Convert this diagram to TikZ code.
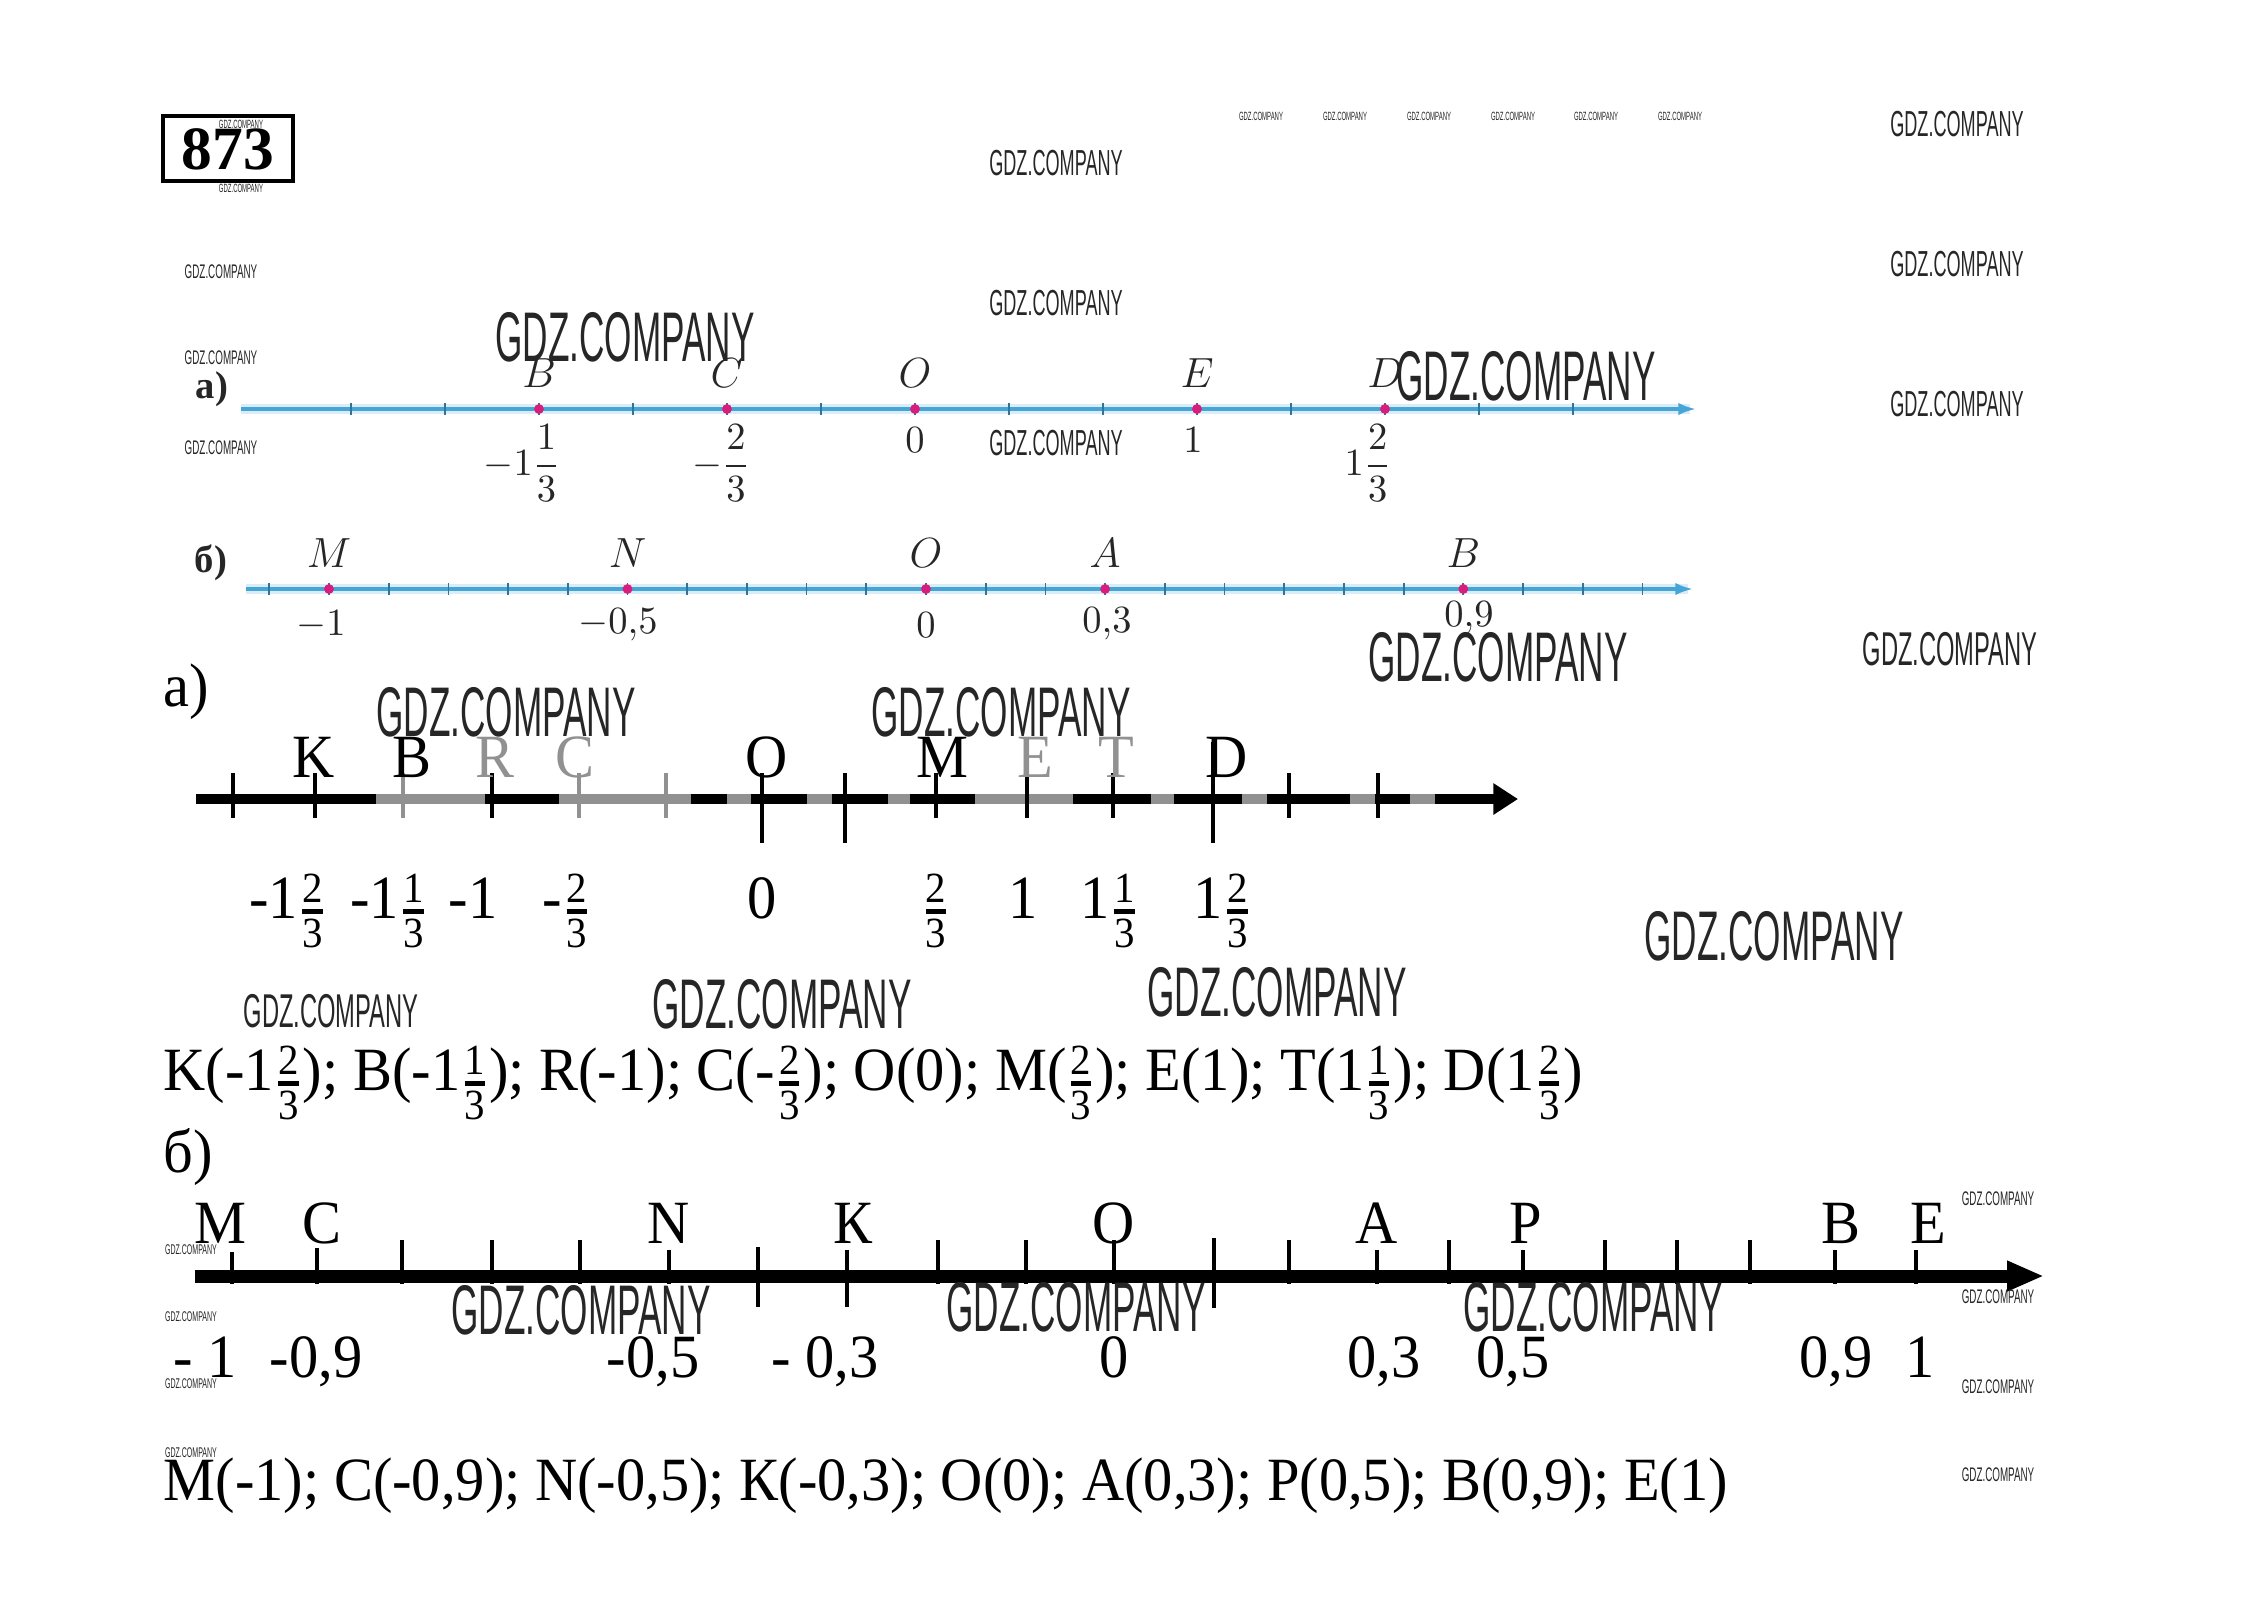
\documentclass[tikz,border=0pt]{standalone}
\usepackage{amsmath}
\usepackage[no-math]{fontspec}
\setmainfont{Liberation Serif}
\newfontfamily\handserif[FakeStretch=0.95]{Liberation Serif}
\newfontfamily\wmfont[FakeStretch=0.5]{Liberation Sans}
\usetikzlibrary{calc}
\usetikzlibrary{arrows.meta}
\definecolor{bookblue}{RGB}{70,165,215}
\definecolor{bookpink}{RGB}{215,30,125}
\definecolor{scangray}{RGB}{145,145,145}
\newcommand{\fr}[2]{\raisebox{-0.14em}{$\genfrac{}{}{1.4pt}{1}{\text{#1}}{\text{#2}}$}}
\newcommand{\wm}[3]{\node[font=\wmfont\fontsize{#3}{#3}\selectfont, text=black!85, inner sep=0] at (#1,#2) {GDZ.COMPANY};}
\newcommand{\bookfont}{\fontsize{12}{14}\selectfont}
\newcommand{\bookvals}{\fontsize{10.5}{12}\selectfont}
\newcommand{\handfont}{\handserif\fontsize{17.5}{20}\selectfont}

\begin{document}
\begin{tikzpicture}[x=0.1mm,y=-0.1mm]
        \useasboundingbox (0,0) rectangle (2265,1620);
        \tikzset{booktick/.style={bookblue!70!black, line width=0.5pt},
                 bookdot/.style={fill=bookpink},
                 booklabel/.style={font=\bookfont, text=black!85, inner sep=0},
                 handlabel/.style={font=\handfont, anchor=base, inner sep=0},
                 handtick/.style={line width=1.1pt}}
    %number 873
        \draw[line width=1.15pt] (163,116) rectangle (293,181);
        \node[font=\bfseries\fontsize{17.5}{20}\selectfont, inner sep=0] (num) at (228,149) {873};

    %book a)
        \node[booklabel, font=\fontsize{11}{13}\selectfont\bfseries] (ba) at (212,389) {а)};
        \draw[bookblue!20, line width=2.6pt] (241,409) -- (1690,409);
        \draw[bookblue, line width=0.9pt, -{Latex[length=5pt,width=3.5pt]}] (241,409) -- (1696,409);
        \foreach \k in {-6,...,7} {
            \draw[booktick] ({915+94*\k},403) -- ({915+94*\k},415);}
        \foreach \k/\l in {-4/B, -2/C, 0/O, 3/E, 5/D} {
            \fill[bookdot] ({915+94*\k},409) circle[radius=1.4pt];
            \node[booklabel] (b-\l) at ({915+94*\k},373) {$\l$};}
        \node[booklabel, anchor=north, font=\bookvals] (bv1) at (522,424) {$-1\dfrac{1}{3}$};
        \node[booklabel, anchor=north, font=\bookvals] (bv2) at (721,424) {$-\dfrac{2}{3}$};
        \node[booklabel, anchor=north, font=\bookvals] (bv3) at (915,427) {$0$};
        \node[booklabel, anchor=north, font=\bookvals] (bv4) at (1193,427) {$1$};
        \node[booklabel, anchor=north, font=\bookvals] (bv5) at (1368,424) {$1\dfrac{2}{3}$};

    %book b)
        \node[booklabel, font=\fontsize{11}{13}\selectfont\bfseries] (bb) at (211,563) {б)};
        \draw[bookblue!20, line width=2.6pt] (246,589) -- (1688,589);
        \draw[bookblue, line width=0.9pt, -{Latex[length=5pt,width=3.5pt]}] (246,589) -- (1693,589);
        \foreach \k in {-11,...,12} {
            \draw[booktick] ({926+59.7*\k},583) -- ({926+59.7*\k},595);}
        \foreach \k/\l in {-10/M, -5/N, 0/O, 3/A, 9/B} {
            \fill[bookdot] ({926+59.7*\k},589) circle[radius=1.4pt];
            \node[booklabel] (bb-\l) at ({926+59.7*\k},553) {$\l$};}
        \foreach \x/\v/\y in {321/{-1}/625, 618/{-0{,}5}/625, 926/{0}/625, 1107/{0{,}3}/624, 1469/{0{,}9}/618} {
            \node[booklabel, font=\bookvals] at (\x,\y) {$\v$};}

    %solution a)
        \node[handlabel, anchor=base west] (sa) at (163,706) {а)};
        \draw[line width=3.1pt, -{Triangle[length=7pt,width=8.5pt]}] (196,799) -- (1518,799);
        \foreach \a/\b in {376/485, 559/691, 727/751, 807/832, 888/910, 975/1073, 1151/1174, 1242/1267, 1350/1375, 1410/1435} {
            \draw[scangray, line width=3.1pt] (\a,799) -- (\b,799);}
        \foreach \x/\t/\b/\c in {233/773/818/black, 315/773/818/black, 403/773/818/scangray, 492/773/818/black,
                579/773/818/scangray, 666/773/818/scangray, 762/773/843/black, 845/773/843/black,
                936/773/818/black, 1027/773/818/black, 1113/773/818/black, 1213/742/843/black,
                1289/773/818/black, 1378/773/818/black} {
            \draw[handtick, \c] (\x,\t) -- (\x,\b);}
        \foreach \x/\l/\c in {314/K/black, 412/B/black, 495/R/scangray, 575/C/scangray, 767/O/black,
                942/M/black, 1035/E/scangray, 1116/T/scangray, 1227/D/black} {
            \node[handlabel, text=\c] (sa-\l) at (\x,777) {\l};}
        \node[handlabel] (sv1) at (288,918) {-1\fr{2}{3}};
        \node[handlabel] (sv2) at (389,918) {-1\fr{1}{3}};
        \node[handlabel] (sv3) at (473,918) {-1};
        \node[handlabel] (sv4) at (567,918) {-\fr{2}{3}};
        \node[handlabel] (sv5) at (762,918) {0};
        \node[handlabel] (sv6) at (936,918) {\fr{2}{3}};
        \node[handlabel] (sv7) at (1023,918) {1};
        \node[handlabel] (sv8) at (1110,918) {1\fr{1}{3}};
        \node[handlabel] (sv9) at (1223,918) {1\fr{2}{3}};
        \node[handlabel, anchor=base west] (sa-ans) at (163,1090)
            {K(-1\fr{2}{3}); B(-1\fr{1}{3}); R(-1); C(-\fr{2}{3}); O(0); M(\fr{2}{3}); E(1); T(1\fr{1}{3}); D(1\fr{2}{3})};

    %solution b)
        \node[handlabel, anchor=base west] (sb) at (163,1172) {б)};
        \draw[line width=3.7pt, -{Triangle[length=10.5pt,width=8pt]}] (195,1276) -- (2044,1276);
        \foreach \x/\t/\b in {232/1252/1284, 317/1248/1284, 402/1240/1284, 492/1240/1284, 580/1240/1284,
                669/1250/1284, 758/1247/1307, 847/1250/1307, 938/1240/1284, 1026/1240/1284,
                1114/1240/1284, 1214/1238/1308, 1289/1240/1284, 1377/1250/1284, 1449/1240/1284,
                1523/1250/1284, 1605/1240/1284, 1677/1240/1284, 1750/1240/1284, 1835/1250/1284,
                1916/1250/1284} {
            \draw[handtick] (\x,\t) -- (\x,\b);}
        \foreach \x/\l/\n in {220/M/m, 322/C/c, 669/N/n, 853/К/k, 1114/O/o, 1377/A/a, 1526/P/p, 1841/B/b, 1928/E/e} {
            \node[handlabel] (sb-\n) at (\x,1243) {\l};}
        \foreach \x/\v/\n in {205/{- 1}/1, 316/{-0,9}/2, 653/{-0,5}/3, 825/{- 0,3}/4, 1114/{0}/5,
                1384/{0,3}/6, 1513/{0,5}/7, 1836/{0,9}/8, 1920/{1}/9} {
            \node[handlabel] (sbv\n) at (\x,1377) {\v};}
        \node[handlabel, anchor=base west] (sb-ans) at (163,1500)
            {M(-1); C(-0,9); N(-0,5); К(-0,3); O(0); A(0,3); P(0,5); B(0,9); E(1)};

    %watermarks
        \foreach \x/\y in {625/337, 1526/376, 1498/657, 506/712, 1001/712, 1774/936, 782/1004, 1277/992,
                581/1310, 1076/1307, 1593/1307} {\wm{\x}{\y}{20}}
        \foreach \x/\y in {331/1011, 1950/649} {\wm{\x}{\y}{13.5}}
        \foreach \x/\y in {1056/163, 1056/303, 1056/443, 1957/124, 1957/264, 1957/404} {\wm{\x}{\y}{10.3}}
        \foreach \x/\y in {221/272, 221/358, 221/448, 1998/1199, 1998/1297, 1998/1387, 1998/1475} {\wm{\x}{\y}{5.6}}
        \foreach \x/\y in {191/1250, 191/1317, 191/1384, 191/1453} {\wm{\x}{\y}{4}}
        \foreach \x/\y in {1261/116, 1345/116, 1429/116, 1513/116, 1596/116, 1680/116, 241/124, 241/188} {\wm{\x}{\y}{3.4}}
\end{tikzpicture}
\end{document}
